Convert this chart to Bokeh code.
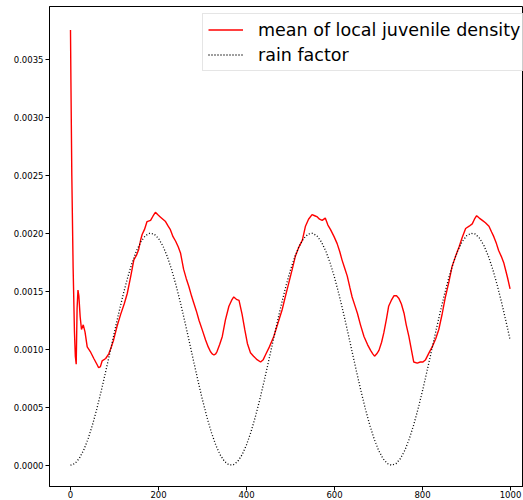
from bokeh.plotting import figure
from bokeh.models import Range1d, FixedTicker, Legend, LegendItem, PrintfTickFormatter
from bokeh.embed import file_html
from bokeh.resources import INLINE

# mean of local juvenile density
juv_x = [0, 1, 3, 6, 9, 11, 13, 15, 17, 19,
         22, 25, 29, 33, 38, 45, 53, 60, 64, 68,
         72, 80, 87, 92, 98, 106, 114, 122, 129, 137,
         144, 150, 155, 160, 163, 168, 174, 182, 188, 193,
         198, 204, 210, 216, 222, 227, 233, 239, 245, 250,
         257, 263, 269, 275, 280, 286, 292, 300, 307, 313,
         318, 322, 326, 330, 333, 339, 345, 352, 360, 366,
         371, 377, 383, 390, 396, 402, 409, 416, 424, 432,
         438, 443, 452, 462, 471, 481, 488, 496, 504, 511,
         519, 527, 534, 541, 549, 555, 561, 566, 572, 579,
         585, 591, 599, 606, 612, 617, 623, 629, 635, 640,
         646, 652, 659, 667, 675, 682, 687, 691, 696, 701,
         707, 712, 718, 723, 729, 735, 741, 746, 752, 758,
         763, 769, 775, 780, 788, 795, 801, 807, 815, 822,
         830, 837, 845, 852, 860, 867, 875, 883, 890, 898,
         906, 913, 918, 923, 929, 936, 943, 951, 957, 962,
         968, 973, 979, 985, 989, 993, 999]
juv_y = [0.00375, 0.00330, 0.00250, 0.00170, 0.00115, 0.00094, 0.00087, 0.00135, 0.00151, 0.00146,
         0.00128, 0.00117, 0.00121, 0.00115, 0.00102, 0.00098, 0.00092, 0.00087, 0.00084, 0.00085,
         0.00090, 0.00092, 0.00096, 0.00101, 0.00108, 0.00120, 0.00130, 0.00139, 0.00148, 0.00163,
         0.00177, 0.00181, 0.00186, 0.00195, 0.00199, 0.00203, 0.00210, 0.00211, 0.00215, 0.00218,
         0.00216, 0.00214, 0.00212, 0.00210, 0.00206, 0.00203, 0.00197, 0.00193, 0.00188, 0.00183,
         0.00169, 0.00161, 0.00154, 0.00146, 0.00140, 0.00133, 0.00125, 0.00116, 0.00108, 0.00102,
         0.00098, 0.00096, 0.00095, 0.00096, 0.00098, 0.00104, 0.00111, 0.00125, 0.00137, 0.00142,
         0.00145, 0.00143, 0.00142, 0.00130, 0.00117, 0.00105, 0.00097, 0.00094, 0.00091, 0.00089,
         0.00091, 0.00095, 0.00102, 0.00111, 0.00122, 0.00134, 0.00145, 0.00157, 0.00169, 0.00180,
         0.00188, 0.00194, 0.00206, 0.00212, 0.00216, 0.00215, 0.00214, 0.00212, 0.00211, 0.00213,
         0.00207, 0.00203, 0.00197, 0.00191, 0.00184, 0.00177, 0.00170, 0.00163, 0.00153, 0.00145,
         0.00138, 0.00131, 0.00121, 0.00111, 0.00104, 0.00099, 0.00096, 0.00094, 0.00096, 0.00099,
         0.00106, 0.00114, 0.00126, 0.00137, 0.00142, 0.00146, 0.00146, 0.00144, 0.00139, 0.00131,
         0.00121, 0.00111, 0.00099, 0.00089, 0.00088, 0.00089, 0.00089, 0.00091, 0.00097, 0.00102,
         0.00109, 0.00117, 0.00131, 0.00145, 0.00158, 0.00171, 0.00180, 0.00188, 0.00196, 0.00204,
         0.00206, 0.00208, 0.00212, 0.00215, 0.00213, 0.00211, 0.00209, 0.00206, 0.00201, 0.00197,
         0.00191, 0.00185, 0.00180, 0.00174, 0.00168, 0.00162, 0.00152]

# rain factor
rain_x = [0, 10, 20, 30, 40, 50, 60, 70, 80, 90,
          100, 110, 120, 130, 140, 150, 160, 170, 180, 190,
          200, 210, 220, 230, 240, 250, 260, 270, 280, 290,
          300, 310, 320, 330, 340, 350, 360, 370, 380, 390,
          400, 410, 420, 430, 440, 450, 460, 470, 480, 490,
          500, 510, 520, 530, 540, 550, 560, 570, 580, 590,
          600, 610, 620, 630, 640, 650, 660, 670, 680, 690,
          700, 710, 720, 730, 740, 750, 760, 770, 780, 790,
          800, 810, 820, 830, 840, 850, 860, 870, 880, 890,
          900, 910, 920, 930, 940, 950, 960, 970, 980, 990,
          999]
rain_y = [0.000000, 0.000015, 0.000059, 0.000130, 0.000228, 0.000348, 0.000488, 0.000642, 0.000808, 0.000978,
          0.001150, 0.001317, 0.001475, 0.001619, 0.001744, 0.001848, 0.001926, 0.001977, 0.001999, 0.001992,
          0.001955, 0.001890, 0.001799, 0.001684, 0.001549, 0.001398, 0.001235, 0.001065, 0.000893, 0.000724,
          0.000563, 0.000416, 0.000285, 0.000176, 0.000091, 0.000033, 0.000004, 0.000004, 0.000033, 0.000091,
          0.000176, 0.000285, 0.000416, 0.000563, 0.000724, 0.000893, 0.001065, 0.001235, 0.001398, 0.001549,
          0.001684, 0.001799, 0.001890, 0.001955, 0.001992, 0.001999, 0.001977, 0.001926, 0.001848, 0.001744,
          0.001619, 0.001475, 0.001317, 0.001150, 0.000978, 0.000808, 0.000642, 0.000488, 0.000348, 0.000228,
          0.000130, 0.000059, 0.000015, 0.000000, 0.000015, 0.000059, 0.000130, 0.000228, 0.000348, 0.000488,
          0.000642, 0.000808, 0.000978, 0.001150, 0.001317, 0.001475, 0.001619, 0.001744, 0.001848, 0.001926,
          0.001977, 0.001999, 0.001992, 0.001955, 0.001890, 0.001799, 0.001684, 0.001549, 0.001398, 0.001235,
          0.001082]

x_ticks = [0, 200, 400, 600, 800, 1000]
y_ticks = [0.0, 0.0005, 0.001, 0.0015, 0.002, 0.0025, 0.003, 0.0035]

assert len(juv_x) == len(juv_y)
assert len(rain_x) == len(rain_y)

p = figure(width=523, height=500, output_backend="svg", toolbar_location=None,
           x_range=Range1d(-47.7, 1029.5), y_range=Range1d(-0.000183, 0.003953),
           min_border_left=49, min_border_top=6, min_border_right=0, min_border_bottom=13)

p.grid.visible = False
p.outline_line_color = "black"
p.outline_line_width = 1
p.background_fill_color = "white"
p.border_fill_color = "white"

for ax in (p.xaxis[0], p.yaxis[0]):
    ax.axis_line_color = "black"
    ax.major_tick_line_color = "black"
    ax.major_tick_out = 4
    ax.major_tick_in = 0
    ax.minor_tick_out = 0
    ax.minor_tick_in = 0
    ax.major_label_text_font = "DejaVu Sans"
    ax.major_label_text_font_size = "8.5px"
    ax.major_label_text_color = "black"
    ax.major_label_standoff = 2
p.xaxis[0].major_label_standoff = 0

p.xaxis.ticker = FixedTicker(ticks=x_ticks)
p.yaxis.ticker = FixedTicker(ticks=y_ticks)
p.yaxis.formatter = PrintfTickFormatter(format="%.4f")

r1 = p.line(juv_x, juv_y, line_color="#ff0000", line_width=1.4)
r2 = p.line(rain_x, rain_y, line_color="black", line_width=1.3, line_dash="1 2")

legend = Legend(items=[LegendItem(label="mean of local juvenile density", renderers=[r1]),
                       LegendItem(label="rain factor", renderers=[r2])],
                location=(153, 415))
legend.label_text_font = "DejaVu Sans"
legend.label_text_font_size = "17.5px"
legend.label_text_color = "black"
legend.glyph_width = 35
legend.glyph_height = 21
legend.label_height = 21
legend.label_standoff = 15
legend.spacing = 4
legend.padding = 5
legend.margin = 0
legend.border_line_color = "#cccccc"
legend.border_line_width = 1
legend.background_fill_alpha = 0.8
p.add_layout(legend)

open("out.html", "w").write(file_html(p, INLINE))
